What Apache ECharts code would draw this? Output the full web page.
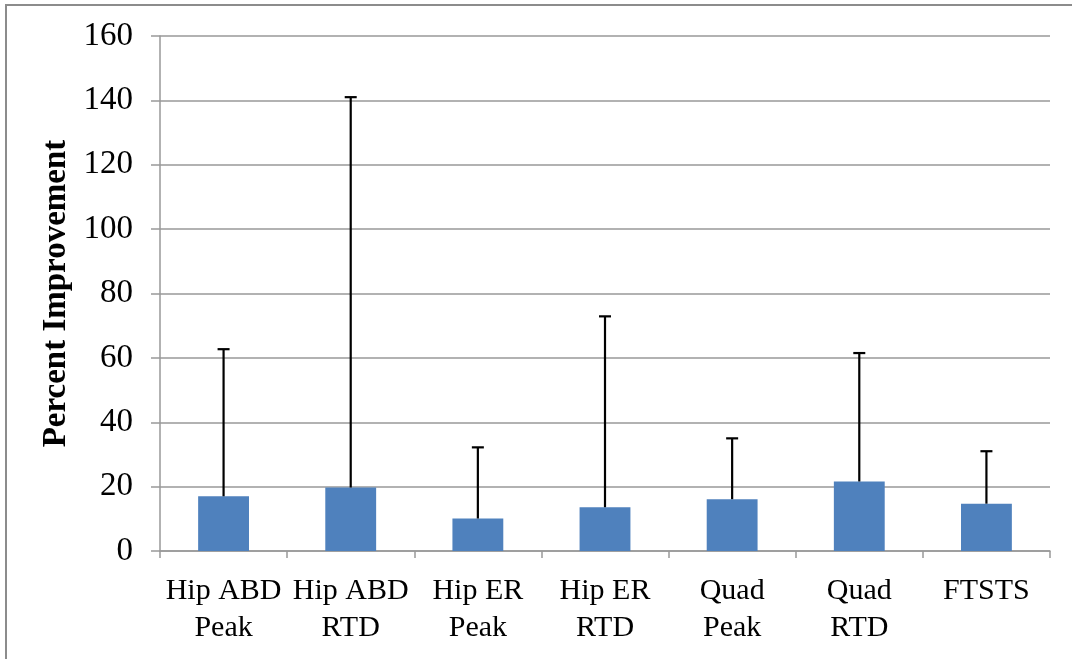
<!DOCTYPE html>
<html>
<head>
<meta charset="utf-8">
<script src="https://cdn.jsdelivr.net/npm/echarts@6/dist/echarts.min.js"></script>
<style>
  html, body { margin: 0; padding: 0; background: #fff; }
  #chart { width: 1072px; height: 659px; }
</style>
</head>
<body>
<div id="chart"></div>
<script>
// categories and values
var categories = ['Hip ABD\nPeak', 'Hip ABD\nRTD', 'Hip ER\nPeak', 'Hip ER\nRTD', 'Quad\nPeak', 'Quad\nRTD', 'FTSTS'];
var meanValues = [17.0, 19.7, 10.1, 13.6, 16.1, 21.6, 14.7];
var errorTops = [62.7, 141.0, 32.2, 72.9, 35.0, 61.5, 31.0];
var yTicks = { min: 0, max: 160, step: 20 };

var serif = '"Liberation Serif", "DejaVu Serif", serif';

var errData = categories.map(function (c, i) {
  return [i, meanValues[i], errorTops[i]];
});

var chart = echarts.init(document.getElementById('chart'));

chart.setOption({
  animation: false,
  backgroundColor: '#fff',
  grid: { left: 160, right: 22, top: 36, bottom: 108 },
  graphic: [{
    type: 'rect',
    shape: { x: 6, y: 5, width: 1200, height: 800 },
    style: { fill: 'none', stroke: '#8c8c8c', lineWidth: 2 },
    silent: true
  }],
  xAxis: {
    type: 'category',
    data: categories,
    axisLine: { lineStyle: { color: '#999', width: 1.5 } },
    axisTick: { show: true, alignWithLabel: false, length: 7, lineStyle: { color: '#999', width: 1.5 } },
    axisLabel: {
      color: '#000',
      fontFamily: serif,
      fontSize: 30,
      lineHeight: 37,
      margin: 22,
      interval: 0
    }
  },
  yAxis: {
    type: 'value',
    min: yTicks.min,
    max: yTicks.max,
    interval: yTicks.step,
    name: 'Percent Improvement',
    nameLocation: 'middle',
    nameGap: 84,
    nameTextStyle: { color: '#000', fontFamily: serif, fontSize: 33, fontWeight: 'bold' },
    axisLine: { show: true, lineStyle: { color: '#999', width: 1.5 } },
    axisTick: { show: true, length: 9, lineStyle: { color: '#999', width: 1.5 } },
    axisLabel: { color: '#000', fontFamily: serif, fontSize: 33, margin: 27 },
    splitLine: { lineStyle: { color: '#999', width: 1.5 } }
  },
  series: [{
    type: 'bar',
    data: meanValues,
    barWidth: '40%',
    itemStyle: { color: '#4f81bd' },
    z: 2
  }, {
    type: 'custom',
    data: errData,
    z: 3,
    renderItem: function (params, api) {
      var base = api.coord([api.value(0), api.value(1)]);
      var top = api.coord([api.value(0), api.value(2)]);
      var half = 6;
      var st = { stroke: '#000', lineWidth: 2.2 };
      return {
        type: 'group',
        children: [
          { type: 'line', shape: { x1: base[0], y1: base[1], x2: top[0], y2: top[1] }, style: st },
          { type: 'line', shape: { x1: top[0] - half, y1: top[1], x2: top[0] + half, y2: top[1] }, style: st }
        ]
      };
    }
  }]
});
</script>
</body>
</html>
